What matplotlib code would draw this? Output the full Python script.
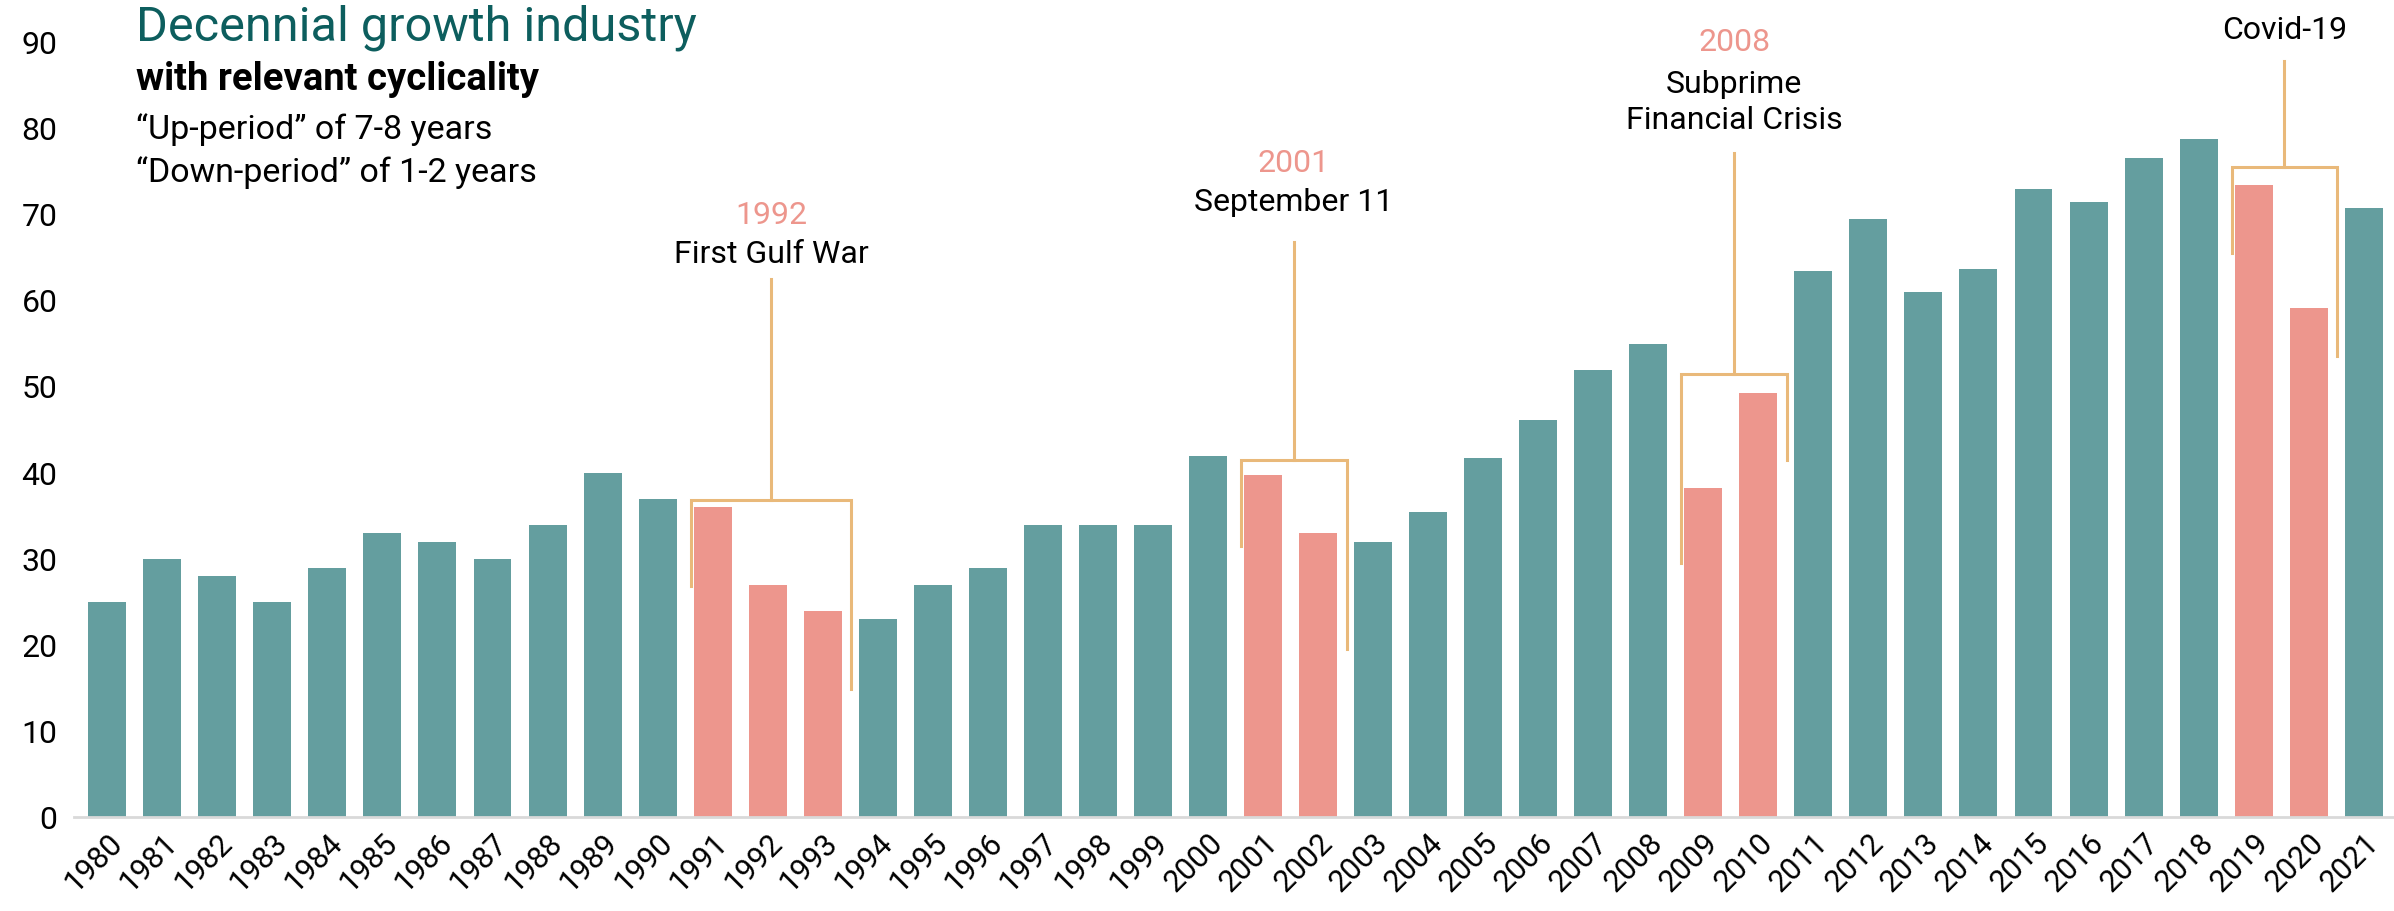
import matplotlib.pyplot as plt

plt.rcParams['font.family'] = ['Roboto', 'DejaVu Sans']

# Data
years = list(range(1980, 2022))
values = [25, 30, 28, 25, 29, 33, 32, 30, 34, 40,
          37, 36, 27, 24, 23, 27, 29, 34, 34, 34,
          42, 39.8, 33, 32, 35.5, 41.7, 46.2, 52, 55, 38.3,
          49.3, 63.5, 69.5, 61, 63.7, 73, 71.5, 76.6, 78.8, 73.5,
          59.2, 70.8]
down_years = [1991, 1992, 1993, 2001, 2002, 2009, 2010, 2019, 2020]

event_years = ['1992', '2001', '2008', '2020']
event_names = ['First Gulf War', 'September 11', 'Subprime\nFinancial Crisis', 'Covid-19']
event_bars = [(1991, 1993), (2001, 2002), (2009, 2010), (2019, 2020)]

# bracket layout: (bracket height, left leg drop, right leg drop, stem length, text gap)
bracket_layout = [(36.9, 10, 22, 25.6, 1.2),
                  (41.5, 10, 22, 25.4, 2.8),
                  (51.5, 22, 10, 25.7, 2.1),
                  (75.6, 10, 22, 12.3, 1.9)]

TEAL = '#649e9f'
SALMON = '#ed968d'
ORANGE = '#e9b97a'
TITLE = '#0d5e5e'

fig = plt.figure(figsize=(23.94, 9.11), dpi=100)
ax = fig.add_axes([0.031, 0.103, 0.969, 0.85])

x = list(range(len(years)))
colors = [SALMON if yr in down_years else TEAL for yr in years]
ax.bar(x, values, width=0.69, color=colors)

ax.set_xlim(-0.6, len(years) - 0.45)
ax.set_ylim(0, 90)
ax.set_yticks(range(0, 91, 10))
ax.set_xticks(x)
ax.set_xticklabels([str(y) for y in years], rotation=45, ha='right',
                   rotation_mode='anchor', fontsize=22)
ax.tick_params(axis='y', labelsize=23, length=0, pad=12)
ax.tick_params(axis='x', length=0, pad=8)
for side in ['top', 'right', 'left']:
    ax.spines[side].set_visible(False)
ax.spines['bottom'].set_color('#d9d9d9')
ax.spines['bottom'].set_linewidth(2)

# Event brackets and labels
for (first, last), yr, name, (top, ldrop, rdrop, stem, gap) in zip(
        event_bars, event_years, event_names, bracket_layout):
    i0 = years.index(first)
    i1 = years.index(last)
    left = i0 - 0.4
    right = i1 + 0.52
    mid = (left + right) / 2
    ax.plot([left, left, right, right], [top - ldrop, top, top, top - rdrop],
            color=ORANGE, lw=2.2, clip_on=False, solid_joinstyle='miter')
    ax.plot([mid, mid], [top, top + stem], color=ORANGE, lw=2.2, clip_on=False)
    n_lines = name.count('\n') + 1
    name_y = top + stem + gap
    ax.text(mid, name_y, name, ha='center', va='bottom', fontsize=23,
            color='black', linespacing=1.3, clip_on=False)
    ax.text(mid, name_y + 4.6 + 4.4 * (n_lines - 1), yr, ha='center', va='bottom',
            fontsize=23, color=SALMON, clip_on=False)

# Title block
fig.text(0.057, 0.970, 'Decennial growth industry', fontsize=35, color=TITLE,
         ha='left', va='center')
fig.text(0.057, 0.913, 'with relevant cyclicality', fontsize=27.5,
         fontweight='bold', color='black', ha='left', va='center')
fig.text(0.057, 0.858, '\u201cUp-period\u201d of 7-8 years', fontsize=24.5,
         color='black', ha='left', va='center')
fig.text(0.057, 0.811, '\u201cDown-period\u201d of 1-2 years', fontsize=24.5,
         color='black', ha='left', va='center')

fig.savefig('out.png', dpi=100)
